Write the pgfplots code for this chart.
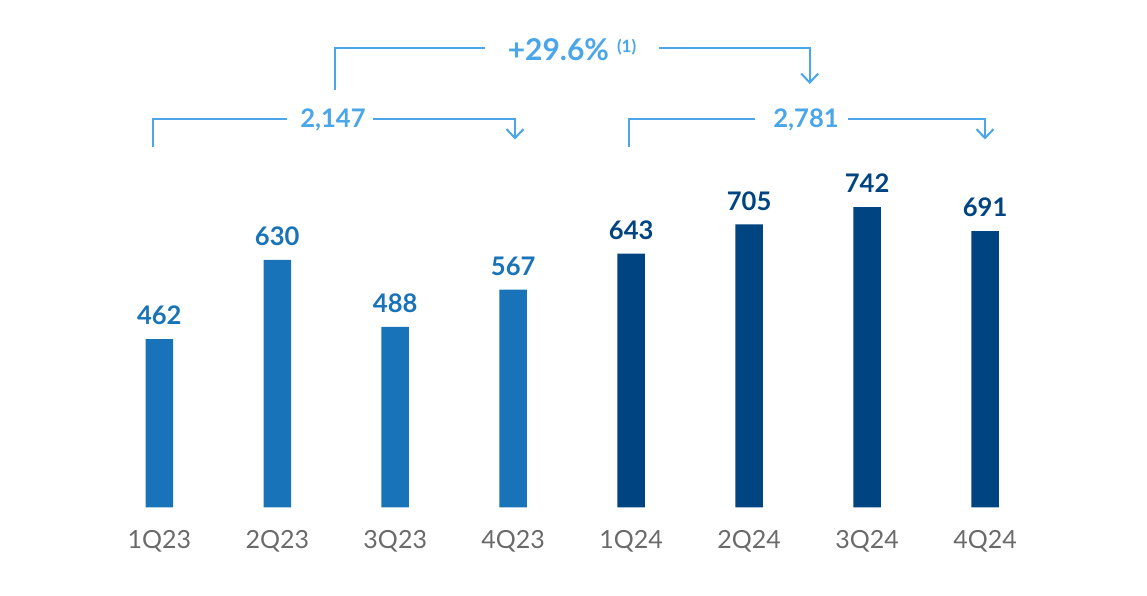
\documentclass[border=0pt]{standalone}
\usepackage{pgfplots}
\pgfplotsset{compat=1.18}
\usetikzlibrary{arrows.meta}
\usepackage{fontspec}
\setmainfont{Lato}
\definecolor{bmid}{HTML}{1973B8}
\definecolor{bnavy}{HTML}{004481}
\definecolor{blight}{HTML}{4AA6E8}
\definecolor{tgrey}{HTML}{6A6A6A}
\begin{document}
\begin{tikzpicture}
\path[use as bounding box] (0,0) rectangle (573.5pt,-297.5pt);
\begin{axis}[
  at={(50.15pt,-253.65pt)}, anchor=south west,
  scale only axis, width=471.9pt, height=163.8pt,
  xmin=-0.5, xmax=7.5, ymin=105, ymax=800,
  axis y line=none, axis x line*=bottom, x axis line style={draw=none},
  xtick={0,...,7},
  xticklabels={1Q23,2Q23,3Q23,4Q23,1Q24,2Q24,3Q24,4Q24},
  major tick length=0pt,
  xticklabel style={anchor=base, yshift=-20.5pt, font=\fontsize{12.5}{14}\selectfont, text=tgrey},
  ybar, bar width=13.75pt,
  nodes near coords,
  every node near coord/.append style={anchor=base, yshift=7.2pt, font=\fontsize{12.8}{14}\selectfont\bfseries},
  /pgf/number format/assume math mode=true,
  clip=false,
]
\addplot[ybar, bar shift=0pt, fill=bmid, draw=none, every node near coord/.append style={text=bmid}]
  coordinates {(0,462) (1,630) (2,488) (3,567)};
\addplot[ybar, bar shift=0pt, fill=bnavy, draw=none, every node near coord/.append style={text=bnavy}]
  coordinates {(4,643) (5,705) (6,742) (7,691)};
\end{axis}
\begin{scope}[x=0.5pt,y=-0.5pt, line width=1pt, draw=blight]
\draw (152.7,146.7) -- (152.7,119) -- (286.7,119);
\draw[-{Straight Barb[length=4.5pt,width=8.5pt]}] (372.7,119) -- (515,119) -- (515,139.5);
\node[anchor=base, text=blight, font=\fontsize{12.8}{14}\selectfont\bfseries] at (333,127.3) {2,147};
\draw (629.3,146.7) -- (629.3,119) -- (755,119);
\draw[-{Straight Barb[length=4.5pt,width=8.5pt]}] (848.3,119) -- (985,119) -- (985,139.5);
\node[anchor=base, text=blight, font=\fontsize{12.8}{14}\selectfont\bfseries] at (806,127.3) {2,781};
\draw (335,90) -- (335,48.4) -- (485.4,48.4);
\draw[-{Straight Barb[length=4.5pt,width=8.5pt]}] (659.3,48.4) -- (809.7,48.4) -- (809.7,84);
\node[anchor=base, text=blight, font=\fontsize{15}{16}\selectfont\bfseries] at (572,60.9) {+29.6\%\hspace{4pt}\raisebox{4pt}{\fontsize{8.5}{9}\selectfont(1)}};
\end{scope}
\end{tikzpicture}
\end{document}
